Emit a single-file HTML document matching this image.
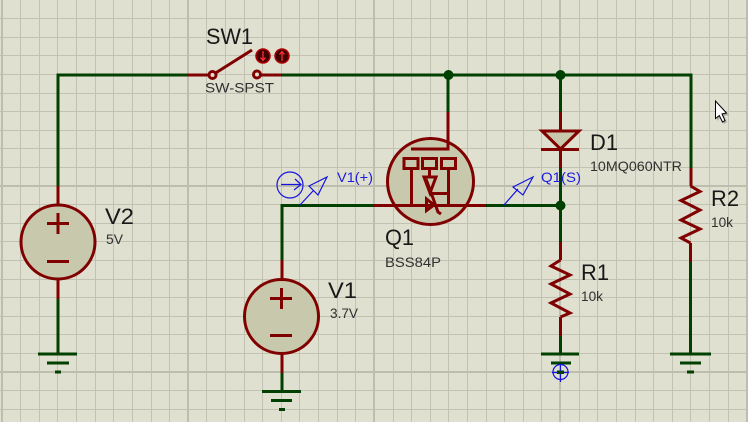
<!DOCTYPE html>
<html><head><meta charset="utf-8"><style>
html,body{margin:0;padding:0;background:#e0e0d1}
svg{display:block}
text{font-family:"Liberation Sans",sans-serif;fill:#181818}
.l{font-size:22px}.s{font-size:14px;fill:#303030}.b{font-size:14px;fill:#1c1ce0}
</style></head><body>
<svg width="748" height="422" viewBox="0 0 748 422" xmlns="http://www.w3.org/2000/svg">
<rect width="748" height="422" fill="#e0e0d1"/>
<path shape-rendering="crispEdges" stroke="#c2c2b2" stroke-width="1" fill="none" d="M20.5 0V422M39.5 0V422M57.5 0V422M76.5 0V422M95.5 0V422M113.5 0V422M132.5 0V422M151.5 0V422M169.5 0V422M206.5 0V422M225.5 0V422M244.5 0V422M262.5 0V422M281.5 0V422M299.5 0V422M318.5 0V422M337.5 0V422M355.5 0V422M393.5 0V422M411.5 0V422M430.5 0V422M448.5 0V422M467.5 0V422M486.5 0V422M504.5 0V422M523.5 0V422M541.5 0V422M579.5 0V422M597.5 0V422M616.5 0V422M635.5 0V422M653.5 0V422M672.5 0V422M690.5 0V422M709.5 0V422M728.5 0V422M0 18.5H748M0 37.5H748M0 55.5H748M0 74.5H748M0 93.5H748M0 111.5H748M0 130.5H748M0 148.5H748M0 167.5H748M0 204.5H748M0 223.5H748M0 241.5H748M0 260.5H748M0 279.5H748M0 297.5H748M0 316.5H748M0 334.5H748M0 353.5H748M0 390.5H748M0 409.5H748"/>
<path shape-rendering="crispEdges" stroke="#bebeae" stroke-width="2" fill="none" d="M2 0V422M188 0V422M374 0V422M560 0V422M747 0V422M0 186H748M0 372H748"/>

<!-- green wires -->
<g fill="none" stroke="#004000" stroke-width="3" shape-rendering="crispEdges">
<path d="M58 186V75H188"/><path d="M281 75H691V168"/>
<path d="M448 75V112"/><path d="M560.5 75V112"/>
<path d="M560.5 168V242"/>
<path d="M282 260V205.5H374"/><path d="M486 205.5H560"/>
<path d="M58 299V354"/><path d="M282 373V392"/><path d="M560.5 336V354"/><path d="M690.5 262V354"/>
<path d="M38 354H77M47 363H69M55 372H61"/>
<path d="M262 391.5H301M271 400.5H292M279 409.5H285"/>
<path d="M541 354H579M551 363H571M557 372H564"/>
<path d="M670 354H711M680 363H701M687 372H694"/>
</g>
<g fill="#004000"><circle cx="448.5" cy="75" r="5"/><circle cx="560.5" cy="75" r="5"/><circle cx="560.5" cy="205.5" r="5"/></g>

<!-- maroon leads -->
<g fill="none" stroke="#800000" stroke-width="3">
<path shape-rendering="crispEdges" d="M188 75H209M260 75H281"/>
<path shape-rendering="crispEdges" d="M58 186V205M58 279V299"/>
<path shape-rendering="crispEdges" d="M282 260V279M282 354V373"/>
<path shape-rendering="crispEdges" d="M374 205.5H486"/>
<path shape-rendering="crispEdges" d="M448 112V149H411"/>
<path shape-rendering="crispEdges" d="M560.5 112V130M560.5 149V168"/>
<path shape-rendering="crispEdges" d="M691 168V186M690.5 243V262"/>
<path shape-rendering="crispEdges" d="M560.5 242V260M560.5 317V336"/>
<path d="M214 74L252 50"/>
<path stroke-linejoin="miter" d="M690.5 186L700 191.5L681 200.5L700 210L681 220L700 229L681 238L690.5 243"/>
<path stroke-linejoin="miter" d="M560.5 260L551 266L570 275L551 284L570 294L551 303L570 313L560.5 317"/>
</g>

<!-- switch -->
<g fill="#e0e0d1" stroke="#800000" stroke-width="3"><circle cx="212.5" cy="75" r="3.5"/><circle cx="257" cy="74.5" r="3.5"/></g>
<circle cx="263" cy="56" r="7" fill="#400000" stroke="#b00000" stroke-width="1.5"/>
<circle cx="282" cy="56" r="7" fill="#400000" stroke="#b00000" stroke-width="1.5"/>
<path d="M263 51V60M260.5 57.5L263 60.5L265.5 57.5M282 61V52M279.5 54.5L282 51.5L284.5 54.5" fill="none" stroke="#ff3030" stroke-width="1.3"/>

<!-- sources -->
<g fill="#c8c8ac" stroke="#800000" stroke-width="3">
<circle cx="58" cy="242" r="37"/>
<circle cx="281.5" cy="316.5" r="37"/>
<circle cx="430.5" cy="181.5" r="43"/>
</g>
<g fill="none" stroke="#800000" stroke-width="3" shape-rendering="crispEdges">
<path d="M47 223.5H69M58 213V234M47 261.5H69"/>
<path d="M270 298.5H292M281.5 288V309M270 335.5H292"/>
</g>

<!-- MOSFET -->
<g fill="none" stroke="#800000" stroke-width="3">
<path shape-rendering="crispEdges" d="M374 205.5H486"/>
<path shape-rendering="crispEdges" d="M448 130V149H411"/>
<rect shape-rendering="crispEdges" x="404" y="158.5" width="14" height="10"/>
<rect shape-rendering="crispEdges" x="422.5" y="158.5" width="14" height="10"/>
<rect shape-rendering="crispEdges" x="441.5" y="158.5" width="14" height="10"/>
<path shape-rendering="crispEdges" d="M411.5 169V205M448.5 169V205M429.5 169V177M432 193.5H448"/>
<path d="M424 177H436L430 193Z"/>
<path d="M426 179L433 198L438 212L441 214"/>
<path d="M426.5 199V210.5L434 205Z"/>
</g>

<!-- diode -->
<path d="M542 131H579L560.5 149Z" fill="#c8c8ac" stroke="#800000" stroke-width="3"/>
<path shape-rendering="crispEdges" d="M541 149.5H579" stroke="#800000" stroke-width="3"/>

<!-- probes -->
<g fill="none" stroke="#1414e0" stroke-width="1.2">
<circle cx="290" cy="185" r="13"/>
<path d="M281 184.5H301M295 179L301 184.5L294 190"/>
<path d="M300 205L313 191M309 186L327 177L318 195Z"/>
<path d="M504 205L518 189M513 187L533 177L523 195Z"/>
<circle cx="560.5" cy="372" r="7.5"/>
<path d="M552 372.5H569M560.5 364V382"/>
</g>
<rect x="557" y="371" width="7" height="3" fill="#004000"/>

<!-- labels -->
<text class="l" x="206" y="44" textLength="47" lengthAdjust="spacingAndGlyphs">SW1</text>
<text class="s" x="205" y="92.5" textLength="69" lengthAdjust="spacingAndGlyphs">SW-SPST</text>
<text class="l" x="105" y="224" textLength="29" lengthAdjust="spacingAndGlyphs">V2</text>
<text class="s" x="106" y="244" textLength="17" lengthAdjust="spacingAndGlyphs">5V</text>
<text class="l" x="328" y="298" textLength="29" lengthAdjust="spacingAndGlyphs">V1</text>
<text class="s" x="330" y="318" textLength="28" lengthAdjust="spacingAndGlyphs">3.7V</text>
<text class="l" x="385" y="245" textLength="29" lengthAdjust="spacingAndGlyphs">Q1</text>
<text class="s" x="385" y="267" textLength="56" lengthAdjust="spacingAndGlyphs">BSS84P</text>
<text class="l" x="590" y="150" textLength="28" lengthAdjust="spacingAndGlyphs">D1</text>
<text class="s" x="590" y="171" textLength="92" lengthAdjust="spacingAndGlyphs">10MQ060NTR</text>
<text class="l" x="711" y="206" textLength="28" lengthAdjust="spacingAndGlyphs">R2</text>
<text class="s" x="711" y="227" textLength="22" lengthAdjust="spacingAndGlyphs">10k</text>
<text class="l" x="581" y="280" textLength="28" lengthAdjust="spacingAndGlyphs">R1</text>
<text class="s" x="581" y="301" textLength="22" lengthAdjust="spacingAndGlyphs">10k</text>
<text class="b" x="337" y="182" textLength="36" lengthAdjust="spacingAndGlyphs">V1(+)</text>
<text class="b" x="541" y="182" textLength="40" lengthAdjust="spacingAndGlyphs">Q1(S)</text>

<!-- cursor -->
<path d="M717 103V121L720 118L724 124L727 122L724 116L729 115Z" fill="#88887e" opacity=".6"/>
<path d="M715.5 101V118.5L719.3 115.5L722.5 122L725 120.5L722 114L726.5 113Z" fill="#fff" stroke="#000" stroke-width="1"/>
</svg>
</body></html>
